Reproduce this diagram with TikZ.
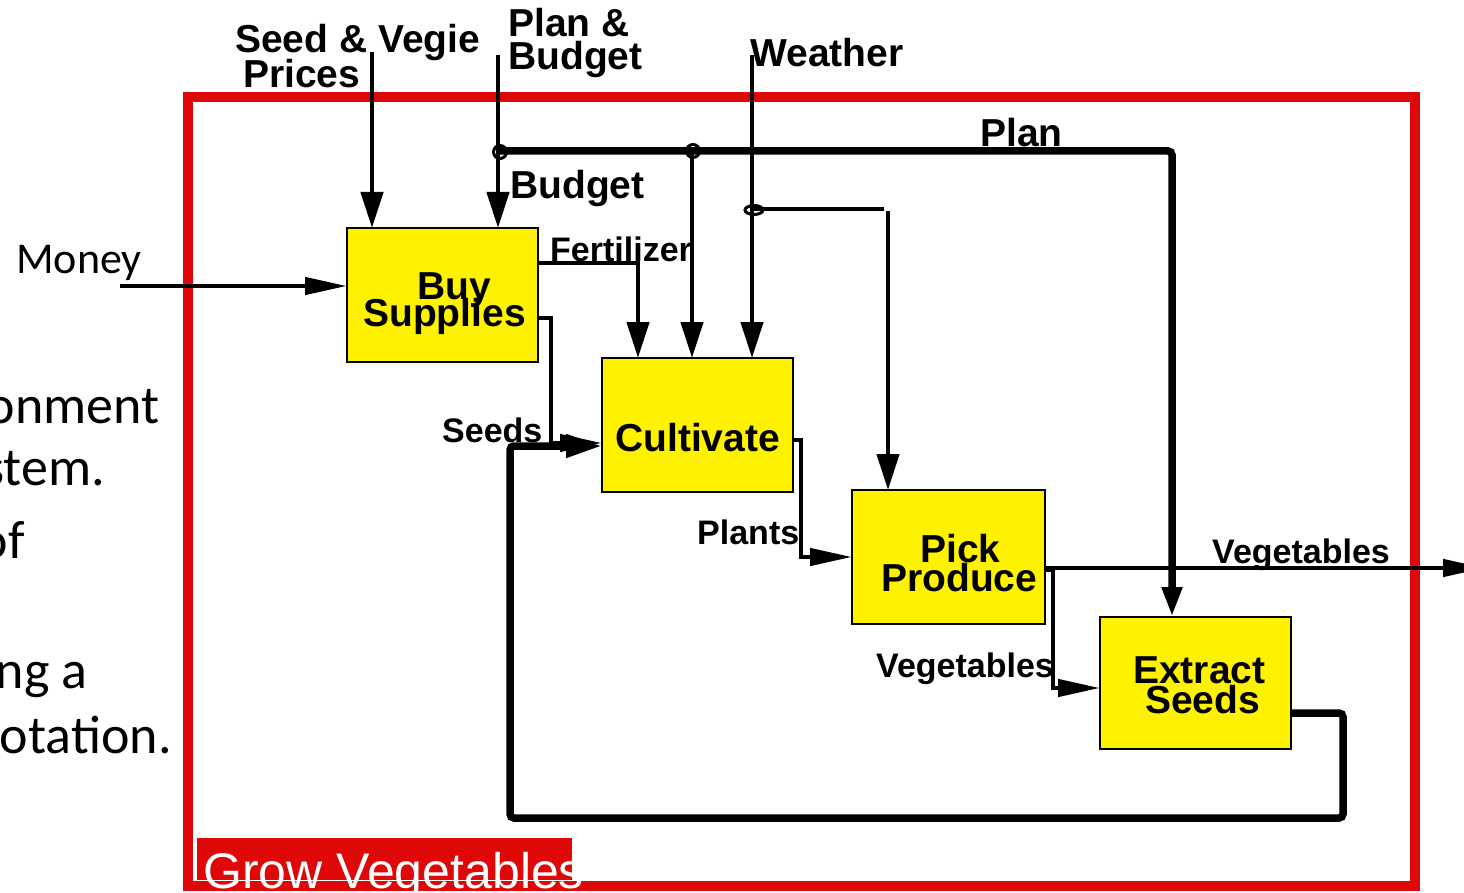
\documentclass[tikz,border=0pt]{standalone}
\usepackage{fontspec}
\setmainfont{Liberation Sans}
\newfontfamily\calibrifont{Carlito}
\usetikzlibrary{arrows.meta}
\definecolor{framered}{RGB}{222,8,8}
\definecolor{boxyellow}{RGB}{255,242,0}
\begin{document}
\begin{tikzpicture}[x=1pt,y=-1pt,
  proc/.style={draw=black, line width=2pt, fill=boxyellow, inner sep=0pt, outer sep=0pt,
    minimum width=191pt, minimum height=134pt},
  title/.style={font=\fontsize{39}{40}\selectfont\bfseries, inner sep=0pt, anchor=base west},
  lbl/.style={font=\fontsize{34}{35}\selectfont\bfseries, inner sep=0pt, anchor=base west},
  side/.style={font=\calibrifont\fontsize{54}{60}\selectfont, inner sep=0pt, anchor=base east},
  vflow/.style={line width=4.5pt, -{Triangle[length=36pt,width=22pt]}},
  hflow/.style={line width=4.5pt, -{Triangle[length=42pt,width=17pt]}},
  heavy/.style={line width=7.5pt, rounded corners=4pt},
  junction/.style={line width=3pt},
]
\useasboundingbox (0,0) rectangle (1464,893);
\clip (0,0) rectangle (1464,893);

% system boundary and its name tag
\draw[framered, line width=10pt] (188,97) rectangle (1415,886);
\fill[framered] (197,838) rectangle (572,879.5);
\node[anchor=base west, inner sep=0pt, text=white, font=\fontsize{50}{50}\selectfont]
  (growlbl) at (203,888) {Grow Vegetables};

% surrounding slide text
\node[side] (t1) at (160,423) {onment};
\node[side] (t2) at (105,485) {stem.};
\node[side] (t3) at (25,558) {of};
\node[side] (t4) at (88,688) {ng a};
\node[side] (t5) at (172,753) {otation.};

% activities
\node[proc] (buy)  at (442.5,295) {};
\node[proc] (cult) at (697.5,425) {};
\node[proc, minimum width=193pt] (pick) at (948.5,557) {};
\node[proc, minimum height=132pt] (extr) at (1195.5,683) {};

\node[title] (buyA) at (417,300) {Buy};
\node[title] (buyB) at (363,326) {Supplies};
\node[title] (cultA) at (615,451) {Cultivate};
\node[title] (pickA) at (920,562) {Pick};
\node[title] (pickB) at (881,591) {Produce};
\node[title] (extrA) at (1133,683) {Extract};
\node[title] (extrB) at (1145,713) {Seeds};

% inputs and controls from outside
\node[title] (lPrice1) at (235,53) {Seed \& Vegie};
\node[title] (lPrice2) at (243,88) {Prices};
\node[title] (lPB1) at (508,37) {Plan \&};
\node[title] (lPB2) at (508,70) {Budget};
\node[title] (lWeather) at (750,67) {Weather};
\node[title] (lBudget) at (510,199) {Budget};
\node[title] (lPlan) at (980,147) {Plan};
\node[anchor=base west, inner sep=0pt, font=\calibrifont\fontsize{44}{44}\selectfont]
  (lMoney) at (16,273) {Money};

% flow labels
\node[lbl] (lFert) at (550,262) {Fertilizer};
\node[lbl] (lSeeds) at (442,442) {Seeds};
\node[lbl] (lPlants) at (697,544) {Plants};
\node[lbl] (lVeg1) at (1212,563) {Vegetables};
\node[lbl] (lVeg2) at (876,677) {Vegetables};

% named bends and free ends
\coordinate (moneyIn) at (120,286);
\coordinate (priceIn) at (372,52);
\coordinate (pbIn) at (498,55);
\coordinate (planJ) at (498,151);
\coordinate (planJ2) at (692,151);
\coordinate (planCorner) at (1172,151);
\coordinate (wIn) at (752,55);
\coordinate (wJ) at (752,209);
\coordinate (wBend) at (884,209);
\coordinate (wDrop) at (888,211);
\coordinate (fert) at (638,263);
\coordinate (seedA) at (551,318);
\coordinate (seedB) at (551,443);
\coordinate (plA) at (801,440);
\coordinate (plB) at (801,557);
\coordinate (vegOut) at (1485,568);
\coordinate (vA) at (1053,570);
\coordinate (vB) at (1053,688);
\coordinate (fb1) at (1343,713);
\coordinate (fb2) at (1343,818);
\coordinate (fb3) at (510,818);
\coordinate (fb4) at (510,446);

% connectors
\draw[hflow] (moneyIn) -- (moneyIn -| buy.west);
\draw[vflow] (priceIn) -- (priceIn |- buy.north);
\draw[vflow] (pbIn) -- (pbIn |- buy.north);
\draw[heavy, -{Triangle[length=30pt,width=19pt]}] (planJ) -- (planCorner) -- (planCorner |- extr.north);
\draw[vflow] (planJ2) -- (planJ2 |- cult.north);
\draw[vflow] (wIn) -- (wIn |- cult.north);
\draw[line width=4.5pt] (wJ) -- (wBend);
\draw[vflow] (wDrop) -- (wDrop |- pick.north);
\draw[vflow] (fert -| buy.east) -- (fert) -- (fert |- cult.north);
\draw[heavy, -{Triangle[length=36pt,width=22pt]}] (fb1 -| extr.east) -- (fb1) -- (fb2) -- (fb3) -- (fb4) -- (fb4 -| cult.west);
\draw[hflow] (seedA -| buy.east) -- (seedA) -- (seedB) -- (seedB -| cult.west);
\draw[hflow] (plA -| cult.east) -- (plA) -- (plB) -- (plB -| pick.west);
\draw[hflow] (vegOut -| pick.east) -- (vegOut);
\draw[hflow] (vA -| pick.east) -- (vA) -- (vB) -- (vB -| extr.west);

% branch points
\draw[junction] (500,152) circle[radius=6.5pt];
\draw[junction] (693,151) circle[radius=6.5pt];
\draw[junction] (754,210) ellipse[x radius=9pt, y radius=4.5pt];
\end{tikzpicture}
\end{document}
